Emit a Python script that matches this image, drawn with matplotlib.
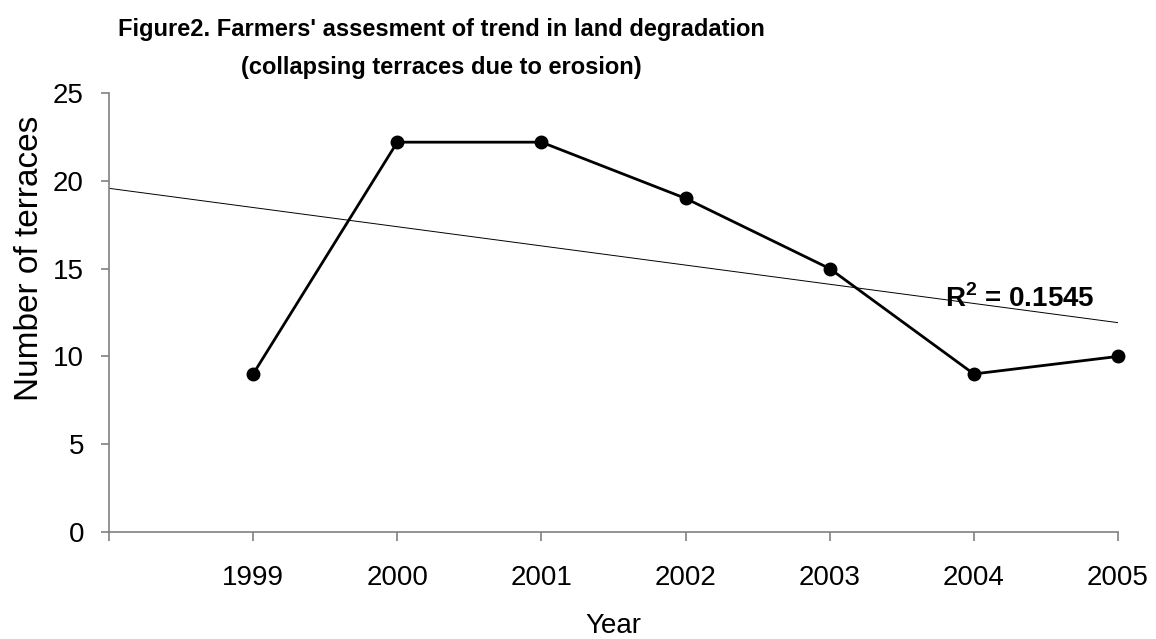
import numpy as np
import matplotlib
matplotlib.use("Agg")
import matplotlib.pyplot as plt

plt.rcParams['font.family'] = ['Liberation Sans', 'DejaVu Sans']
plt.rcParams['mathtext.fontset'] = 'custom'
plt.rcParams['mathtext.bf'] = 'Liberation Sans:bold'

# number of collapsed terraces reported per year
years = [1999, 2000, 2001, 2002, 2003, 2004, 2005]
terraces = [9, 22.2, 22.2, 19, 15, 9, 10]
x_ticks = [1998, 1999, 2000, 2001, 2002, 2003, 2004, 2005]
x_labels = ['', '1999', '2000', '2001', '2002', '2003', '2004', '2005']
y_ticks = [0, 5, 10, 15, 20, 25]

W, H = 1156, 639
fig = plt.figure(figsize=(W / 100, H / 100), dpi=100)
ax = fig.add_axes([109 / W, 1 - 532 / H, (1118 - 109) / W, (532 - 93) / H])

# linear trend, drawn back one year to the start of the axis
slope, icpt = np.polyfit(years, terraces, 1)
pred = np.polyval([slope, icpt], years)
r2 = 1 - np.sum((np.array(terraces) - pred) ** 2) / np.sum((np.array(terraces) - np.mean(terraces)) ** 2)
tx = np.array([x_ticks[0], years[-1]])
ax.plot(tx, slope * tx + icpt, color='black', lw=0.7, zorder=2)

ax.plot(years, terraces, color='black', lw=2.0, marker='o', ms=9,
        markerfacecolor='black', markeredgecolor='black', zorder=3, clip_on=False)

ax.text(2003.80, 12.8, r'R$^{\mathbf{2}}$ = %.4f' % r2, fontsize=20, fontweight='bold',
        ha='left', va='baseline')

ax.set_xlim(1998, 2005)
ax.set_ylim(0, 25)
ax.set_xticks(x_ticks)
ax.set_xticklabels(x_labels)
ax.set_yticks(y_ticks)

for s in ['top', 'right']:
    ax.spines[s].set_visible(False)
for s in ['left', 'bottom']:
    ax.spines[s].set_color('#808080')
    ax.spines[s].set_linewidth(1.2)

ax.tick_params(axis='x', direction='out', length=6.5, width=1.2, color='#808080',
               labelsize=20, pad=17)
ax.tick_params(axis='y', direction='out', length=6, width=1.2, color='#808080',
               labelsize=20, pad=12)

fig.text(0.531, 1 - 633 / H, 'Year', fontsize=20, ha='center', va='baseline')
fig.text(30 / W, 1 - 258 / H, 'Number of terraces', fontsize=24, rotation=90,
         ha='center', va='center')

fig.text(441 / W, 1 - 36 / H, "Figure2. Farmers' assesment of trend in land degradation",
         fontsize=17, fontweight='bold', ha='center', va='baseline')
fig.text(441 / W, 1 - 74 / H, "(collapsing terraces due to erosion)",
         fontsize=17, fontweight='bold', ha='center', va='baseline')

fig.savefig('out.png', dpi=100)
